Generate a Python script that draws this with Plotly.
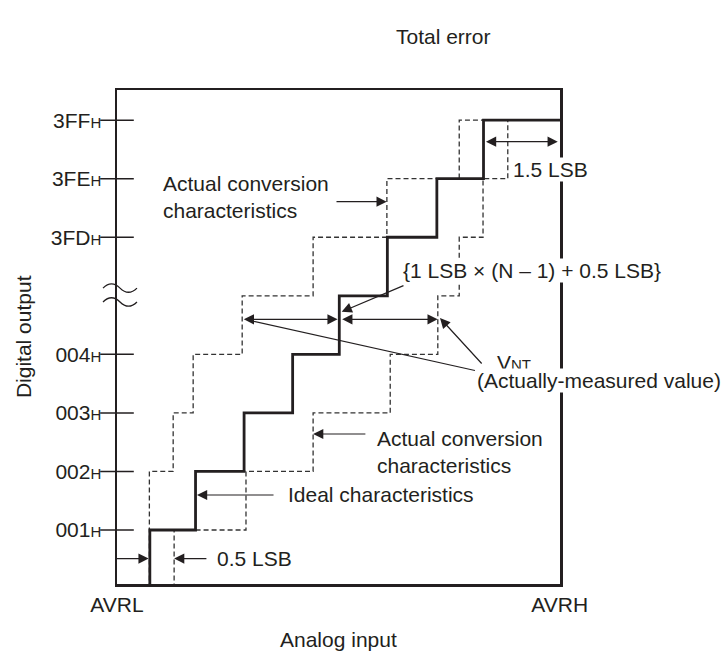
import plotly.graph_objects as go

# ---------------- data (axis units: x in LSB from AVRL, y in output code level) ----------
codes = [1, 2, 3, 4, 5, 6, 7, 8]
ideal_x = [0.69, 1.65, 2.67, 3.69, 4.67, 5.68, 6.72, 7.70]          # ideal transitions
actual_left_x = [0.68, 0.68, 1.18, 1.60, 2.63, 4.12, 5.67, 7.19]     # actual (early) transitions
actual_right_x = [1.20, 2.71, 4.12, 5.74, 6.74, 7.19, 7.69, 8.21]    # actual (late) transitions
avrl, avrh = 0.0, 9.307

tick_levels = [1, 2, 3, 4, 6, 7, 8]
tick_codes = ["001", "002", "003", "004", "3FD", "3FE", "3FF"]
x_ticks = [0.0, 9.30]
x_tick_text = ["AVRL", "AVRH"]

C = "#231f20"
FONT = "Liberation Sans, Arial, sans-serif"
FS = 21


def staircase(trans, end_x):
    xs, ys = [trans[0]], [0]
    for t, c in zip(trans, codes):
        xs.append(t)
        ys.append(c)
    xs.append(end_x)
    ys.append(codes[-1])
    return xs, ys


fig = go.Figure()

for tr in (actual_left_x, actual_right_x):
    xs, ys = staircase(tr, avrh)
    fig.add_trace(go.Scatter(x=xs, y=ys, mode="lines", line_shape="hv",
                             line=dict(color="#333333", width=1.3, dash="5px,3px"),
                             hoverinfo="skip", showlegend=False))

xs, ys = staircase(ideal_x, avrh)
fig.add_trace(go.Scatter(x=xs, y=ys, mode="lines", line_shape="hv",
                         line=dict(color=C, width=2.8),
                         hoverinfo="skip", showlegend=False))

# tick marks crossing the y axis
fig.add_trace(go.Scatter(x=[avrl] * len(tick_levels), y=tick_levels, mode="markers",
                         marker=dict(symbol="line-ew", size=24,
                                     line=dict(color=C, width=1.5)),
                         cliponaxis=False, hoverinfo="skip", showlegend=False))

ticktext = [f"{t}<span style='font-size:15px'>H</span>" for t in tick_codes]

fig.update_layout(
    width=727, height=652,
    margin=dict(l=117, r=167, t=90, b=68),
    paper_bgcolor="white", plot_bgcolor="white",
    font=dict(family=FONT, size=FS, color=C),
    hovermode=False,
    xaxis=dict(range=[avrl, avrh], showgrid=False, zeroline=False,
               showline=True, mirror=True, linewidth=2.5, linecolor=C,
               tickvals=x_ticks, ticktext=x_tick_text, ticks="",
               tickfont=dict(size=FS, family=FONT, color=C)),
    yaxis=dict(range=[0.078, 8.515], showgrid=False, zeroline=False,
               showline=True, mirror=True, linewidth=2.5, linecolor=C,
               tickvals=tick_levels, ticktext=ticktext, ticks="outside",
               ticklen=9, tickcolor="rgba(0,0,0,0)",
               tickfont=dict(size=FS, family=FONT, color=C)),
)

# axis break squiggles (paper coords)
x0, xm, x1, a = -0.0316, 0.0068, 0.0451, 0.0085
for yb in (0.599, 0.571):
    fig.add_shape(type="path", xref="paper", yref="paper",
                  path=(f"M {x0},{yb} Q {(x0 + xm) / 2},{yb + 2 * a} {xm},{yb} "
                        f"Q {(xm + x1) / 2},{yb - 2 * a} {x1},{yb}"),
                  line=dict(color=C, width=1.3))

# long leader line for VNT
fig.add_shape(type="line", xref="x", yref="y", x0=2.79, y0=4.578, x1=7.52, y1=3.724,
              line=dict(color=C, width=1.2))

# arrows: (tail_x, tail_y, head_x, head_y, double)
arrows = [
    (-0.05, 0.513, 0.665, 0.513, False),
    (1.91, 0.513, 1.20, 0.513, False),
    (3.32, 1.598, 1.68, 1.598, False),
    (5.25, 2.640, 4.12, 2.640, False),
    (4.58, 6.607, 5.666, 6.607, False),
    (7.72, 7.632, 9.26, 7.632, True),
    (6.05, 5.184, 4.72, 4.728, False),
    (2.632, 4.599, 4.635, 4.599, True),
    (4.70, 4.599, 6.737, 4.599, True),
    (7.69, 3.818, 6.786, 4.62, False),
]
for tx, ty, hx, hy, dbl in arrows:
    fig.add_annotation(x=hx, y=hy, ax=tx, ay=ty, xref="x", yref="y",
                       axref="x", ayref="y", text="", showarrow=True,
                       arrowhead=2, arrowsize=1.7, arrowwidth=1.2, arrowcolor=C,
                       arrowside="end+start" if dbl else "end")

# text labels: (text, x, y, white background)
labels = [
    ("Actual conversion<br>characteristics", 0.95, 6.69, False),
    ("Actual conversion<br>characteristics", 5.44, 2.33, False),
    ("Ideal characteristics", 3.57, 1.614, False),
    ("0.5 LSB", 2.08, 0.522, False),
    ("1.5 LSB", 8.30, 7.149, True),
    ("{1 LSB \u00d7 (N \u2013 1) + 0.5 LSB}", 5.99, 5.44, True),
    ("V<span style='font-size:15px'>NT</span>", 7.96, 3.869, False),
    ("(Actually-measured value)", 7.54, 3.562, True),
]
for txt, x, y, bg in labels:
    fig.add_annotation(x=x, y=y, xref="x", yref="y", text=txt, showarrow=False,
                       xanchor="left", yanchor="middle", align="left",
                       bgcolor="white" if bg else "rgba(0,0,0,0)", borderpad=0,
                       font=dict(size=FS, family=FONT, color=C))

# titles
fig.add_annotation(x=0.736, y=1.109, xref="paper", yref="paper", text="Total error",
                   showarrow=False, xanchor="center", yanchor="middle",
                   font=dict(size=FS, family=FONT, color=C))
fig.add_annotation(x=0.499, y=-0.113, xref="paper", yref="paper", text="Analog input",
                   showarrow=False, xanchor="center", yanchor="middle",
                   font=dict(size=FS, family=FONT, color=C))
fig.add_annotation(x=-0.212, y=0.5, xref="paper", yref="paper", text="Digital output",
                   showarrow=False, xanchor="center", yanchor="middle", textangle=-90,
                   font=dict(size=FS, family=FONT, color=C))

fig.write_html("out.html", config={"displayModeBar": False, "staticPlot": True},
               post_script="document.body.style.margin='0';document.body.style.overflow='hidden';")
